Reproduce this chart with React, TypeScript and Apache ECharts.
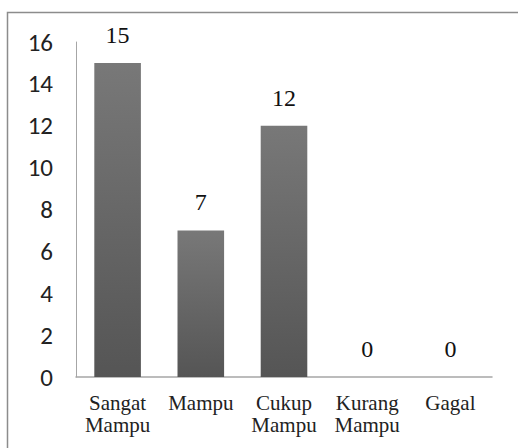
import React, { useEffect, useRef } from "react";
import * as echarts from "echarts";

const categories = ["Sangat\nMampu", "Mampu", "Cukup\nMampu", "Kurang\nMampu", "Gagal"];
const values = [15, 7, 12, 0, 0];
const yTicks = { min: 0, max: 16, interval: 2 };

const SERIF = "Liberation Serif";
const SANS = "Carlito";

export default function App() {
  const ref = useRef<HTMLDivElement>(null);
  useEffect(() => {
    if (!ref.current) return;
    const chart = echarts.init(ref.current, null, { renderer: "svg" });
    chart.setOption({
      animation: false,
      backgroundColor: "#fff",
      graphic: [
        {
          type: "rect",
          shape: { x: 7.5, y: 12.5, width: 530, height: 460 },
          style: { fill: "none", stroke: "#8c8c8c", lineWidth: 1.5 },
          silent: true,
        },
      ],
      grid: { left: 76, right: 26, top: 42, bottom: 71 },
      xAxis: {
        type: "category",
        data: categories,
        axisLine: { show: true, lineStyle: { color: "#a6a6a6", width: 1.5 } },
        axisTick: { show: false },
        axisLabel: {
          color: "#222",
          fontFamily: SERIF,
          fontSize: 21,
          lineHeight: 22,
          margin: 15,
          interval: 0,
        },
      },
      yAxis: {
        type: "value",
        min: yTicks.min,
        max: yTicks.max,
        interval: yTicks.interval,
        axisLine: { show: true, lineStyle: { color: "#a6a6a6", width: 1 } },
        axisTick: { show: false },
        splitLine: { show: false },
        axisLabel: {
          color: "#222",
          fontFamily: SANS,
          fontSize: 25,
          margin: 23,
        },
      },
      series: [
        {
          type: "bar",
          data: values,
          barWidth: "56%",
          itemStyle: {
            color: new echarts.graphic.LinearGradient(0, 0, 0, 1, [
              { offset: 0, color: "#787878" },
              { offset: 1, color: "#555555" },
            ]),
          },
          label: {
            show: true,
            position: "top",
            distance: 16,
            color: "#111",
            fontFamily: SERIF,
            fontSize: 24,
          },
        },
      ],
    });
    return () => chart.dispose();
  }, []);
  return (
    <div
      ref={ref}
      style={{ position: "fixed", left: 0, top: 0, width: 518, height: 448 }}
    />
  );
}
